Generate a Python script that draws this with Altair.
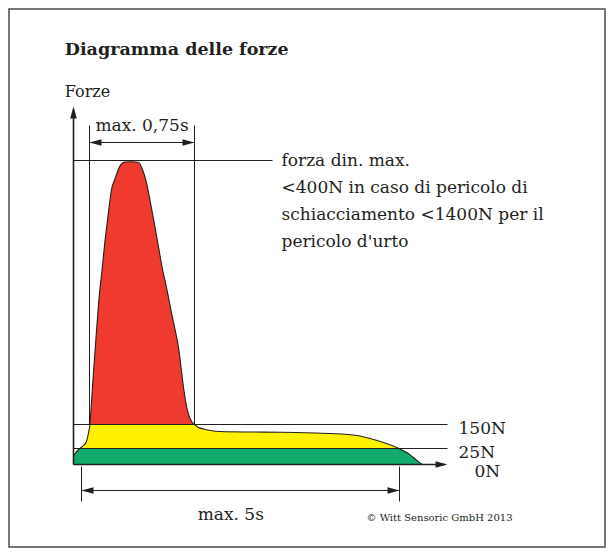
import altair as alt
import pandas as pd
import numpy as np

# ---- data (schematic diagram units, origin = crossing of the two axes) ----
curve_t = [0, 2, 4.7, 6.4, 7.5, 10, 13, 15, 16.3, 16.4,
           17.5, 19.5, 22, 25, 29, 31.3, 33.7, 35.7, 38, 41.3,
           46.3, 51.3, 58, 64.7, 69, 73, 77, 81.3, 85.5, 89,
           92, 98.7, 105.3, 110.3, 113.7, 117, 120.3, 121, 125, 130.3,
           137, 147, 177, 207, 257, 283.7, 300.3, 313.7, 325.3, 333.7,
           340.3, 347.7, 349]
curve_f = [8.5, 11.5, 14.5, 16, 17, 19, 23.3, 31.7, 39, 40,
           55, 85, 120, 160, 199, 221.7, 241.7, 258.3, 275, 285,
           298.3, 302.5, 302.7, 302.3, 295, 281.7, 261.7, 238.3, 215, 195,
           181.7, 148.3, 115, 75, 55, 45, 40.5, 40, 37, 35.5,
           34, 33, 32.5, 32.3, 31, 29, 25, 20.7, 16, 11.7,
           6.7, 0.7, 0]

level_f = [0, 16, 40]
level_names = ["0N", "25N", "150N"]
peak_f = 304
axis_t_end = 374
axis_f_end = 358
peak_line_end = 199
window_t = [16, 121]
window_top = 339
window_arrow_f = 322
span_t = [8, 326]
span_f = [-2, -37]
span_arrow_f = -26

title_text = "Diagramma delle forze"
ylabel_text = "Forze"
window_label = "max. 0,75s"
span_label = "max. 5s"
note_lines = ["forza din. max.", "<400N in caso di pericolo di",
              "schiacciamento <1400N per il", "pericolo d'urto"]
copyright_text = "© Witt Sensoric GmbH 2013"

RED = "#ee3a2f"
YELLOW = "#fff200"
GREEN = "#12aa6b"
INK = "#231f20"
FONT = "DejaVu Serif"

xs = alt.Scale(domain=[-64.5, 531.5], nice=False, zero=False)
ys = alt.Scale(domain=[-82.5, 455.5], nice=False, zero=False)


def X(f):
    return alt.X(f, type="quantitative", scale=xs, axis=None)


def Y(f):
    return alt.Y(f, type="quantitative", scale=ys, axis=None)


cf = np.array(curve_f, dtype=float)
curve = pd.DataFrame({
    "t": curve_t,
    "f": curve_f,
    "base": 0.0,
    "red_top": np.maximum(cf, level_f[2]),
    "red_base": float(level_f[2]),
    "green_top": np.minimum(cf, level_f[1]),
})

yellow = alt.Chart(curve).mark_area(color=YELLOW, interpolate="monotone").encode(
    x=X("t"), y=Y("f"), y2="base")
red = alt.Chart(curve).mark_area(color=RED, interpolate="monotone").encode(
    x=X("t"), y=Y("red_top"), y2="red_base")
green = alt.Chart(curve).mark_area(color=GREEN, interpolate="monotone").encode(
    x=X("t"), y=Y("green_top"), y2="base")
outline = alt.Chart(curve).mark_line(color=INK, strokeWidth=1.1, interpolate="monotone").encode(
    x=X("t"), y=Y("f"))

# axes
axes_h = pd.DataFrame({"t0": [0], "t1": [axis_t_end - 3], "f": [level_f[0]]})
axes_v = pd.DataFrame({"t": [0], "f0": [level_f[0]], "f1": [axis_f_end - 3]})
ax_h = alt.Chart(axes_h).mark_rule(color=INK, strokeWidth=1.6).encode(
    x=X("t0"), x2="t1", y=Y("f"))
ax_v = alt.Chart(axes_v).mark_rule(color=INK, strokeWidth=1.6).encode(
    x=X("t"), y=Y("f0"), y2="f1")

# horizontal guide lines
hl = pd.DataFrame({
    "t0": [0, 0, 0, window_t[0], span_t[0]],
    "t1": [axis_t_end, axis_t_end, peak_line_end, window_t[1], span_t[1]],
    "f": [level_f[1], level_f[2], peak_f, window_arrow_f, span_arrow_f],
})
hrules = alt.Chart(hl).mark_rule(color=INK, strokeWidth=1).encode(
    x=X("t0"), x2="t1", y=Y("f"))

# vertical guide lines
vl = pd.DataFrame({
    "t": [window_t[0], window_t[1], span_t[0], span_t[1]],
    "f0": [level_f[2], level_f[2], span_f[0], span_f[0]],
    "f1": [window_top, window_top, span_f[1], span_f[1]],
})
vrules = alt.Chart(vl).mark_rule(color=INK, strokeWidth=1).encode(
    x=X("t"), y=Y("f0"), y2="f1")

# arrow heads
arrow_path = "M0,0L0.55,2L-0.55,2Z"
ah = pd.DataFrame({
    "t": [0, axis_t_end, window_t[0], window_t[1], span_t[0], span_t[1]],
    "f": [axis_f_end, level_f[0], window_arrow_f, window_arrow_f, span_arrow_f, span_arrow_f],
    "ang": [0, 90, 270, 90, 270, 90],
})
heads = alt.Chart(ah).mark_point(shape=arrow_path, filled=True, size=144,
                                 color=INK, opacity=1, strokeWidth=0).encode(
    x=X("t"), y=Y("f"), angle=alt.Angle("ang:Q", scale=None))


def label(df, **kw):
    base = dict(font=FONT, color=INK, baseline="alphabetic")
    base.update(kw)
    return alt.Chart(df).mark_text(**base).encode(
        x=X("t"), y=Y("f"), text="label:N")


title = label(pd.DataFrame({"t": [-8.7], "f": [410], "label": [title_text]}),
              fontSize=17.5, fontWeight="bold", align="left")
ylab = label(pd.DataFrame({"t": [-8.7], "f": [367.3], "label": [ylabel_text]}),
             fontSize=16, align="left")
wlab = label(pd.DataFrame({"t": [sum(window_t) / 2], "f": [333.3], "label": [window_label]}),
             fontSize=17, align="center")
note = label(pd.DataFrame({"t": [208], "f": [299], "label": ["\n".join(note_lines)]}),
             fontSize=17, align="left", lineBreak="\n", lineHeight=27)
lv_hi = label(pd.DataFrame({"t": [axis_t_end] * 2, "f": level_f[1:], "label": level_names[1:]}),
              fontSize=17, align="left", dx=11, dy=9)
lv_0 = label(pd.DataFrame({"t": [axis_t_end], "f": [level_f[0]], "label": [level_names[0]]}),
             fontSize=17, align="left", dx=27, dy=12)
slab = label(pd.DataFrame({"t": [157.3], "f": [-55], "label": [span_label]}),
             fontSize=17, align="center")
copy = label(pd.DataFrame({"t": [293], "f": [-56], "label": [copyright_text]}),
             fontSize=10, align="left")

chart = alt.layer(
    yellow, red, green, outline, ax_h, ax_v, hrules, vrules, heads,
    title, ylab, wlab, note, lv_hi, lv_0, slab, copy,
).properties(
    width=596, height=538, autosize="none",
    padding={"left": 1, "top": 1, "right": 1, "bottom": 1},
    background="white",
).configure_view(stroke="#4a4a4a", strokeWidth=1.5)

chart.save("out.html", embed_options={"renderer": "svg", "actions": False})
